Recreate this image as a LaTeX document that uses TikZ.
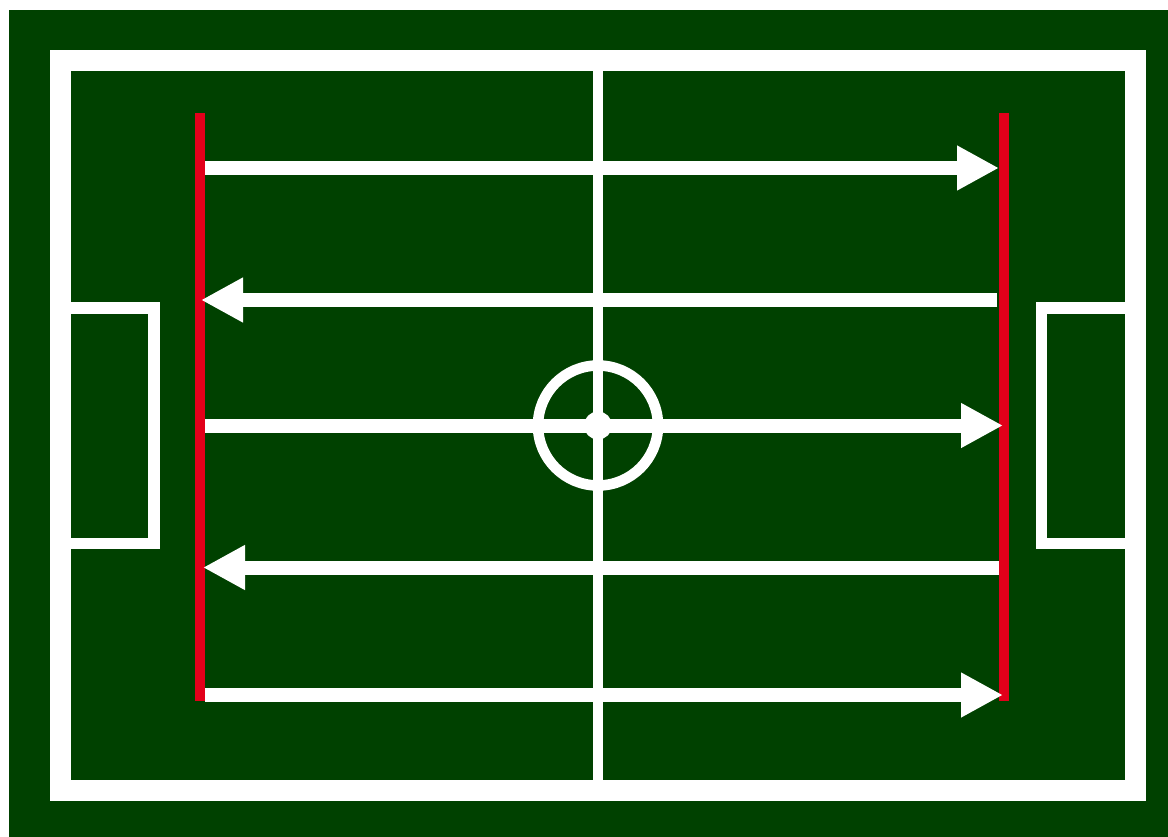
\documentclass[tikz,border=0pt]{standalone}
\usetikzlibrary{arrows.meta}
\definecolor{pitch}{RGB}{0,65,0}
\definecolor{redline}{RGB}{226,0,26}
\tikzset{
  chalk/.style={draw=white, line cap=butt},
  runarrow/.style={draw=white, line width=14pt, -{Triangle[length=42pt,width=42pt]}},
  redbar/.style={draw=redline, line width=10pt}
}
\begin{document}
\begin{tikzpicture}[x=1pt,y=-1pt]
\useasboundingbox (0,0) rectangle (1168,837);
\fill[white] (0,0) rectangle (1168,837);
\fill[pitch] (9,10) rectangle (1168,837);
% outer border
\draw[chalk, line width=21pt] (60.5,60.5) rectangle (1135.5,790.5);
% halfway line
\draw[chalk, line width=10.5pt] (598,71) -- (598,780);
% centre circle and spot
\draw[chalk, line width=10.6pt] (598,425.5) circle (60);
\fill[white] (598,425.5) circle (14);
% penalty boxes
\draw[chalk, line width=11.5pt, line join=miter] (70,308) -- (153.8,308) -- (153.8,543.3) -- (70,543.3);
\draw[chalk, line width=11.5pt, line join=miter] (1126,308) -- (1041.5,308) -- (1041.5,543.3) -- (1126,543.3);
% red lines
\coordinate (lt) at (199.5,113);
\coordinate (lb) at (199.5,701);
\coordinate (rt) at (1004,113);
\coordinate (rb) at (1004,701);
\draw[redbar] (lt) -- (lb);
\draw[redbar] (rt) -- (rb);
% run arrows
\coordinate (a1s) at (205,168);   \coordinate (a1e) at (999,168);
\coordinate (a2s) at (997,300);   \coordinate (a2e) at (201,300);
\coordinate (a3s) at (205,425.5); \coordinate (a3e) at (1003,425.5);
\coordinate (a4s) at (999,567.5); \coordinate (a4e) at (203,567.5);
\coordinate (a5s) at (205,695);   \coordinate (a5e) at (1003,695);
\draw[runarrow] (a1s) -- (a1e);
\draw[runarrow] (a2s) -- (a2e);
\draw[runarrow] (a3s) -- (a3e);
\draw[runarrow] (a4s) -- (a4e);
\draw[runarrow] (a5s) -- (a5e);
\end{tikzpicture}
\end{document}
